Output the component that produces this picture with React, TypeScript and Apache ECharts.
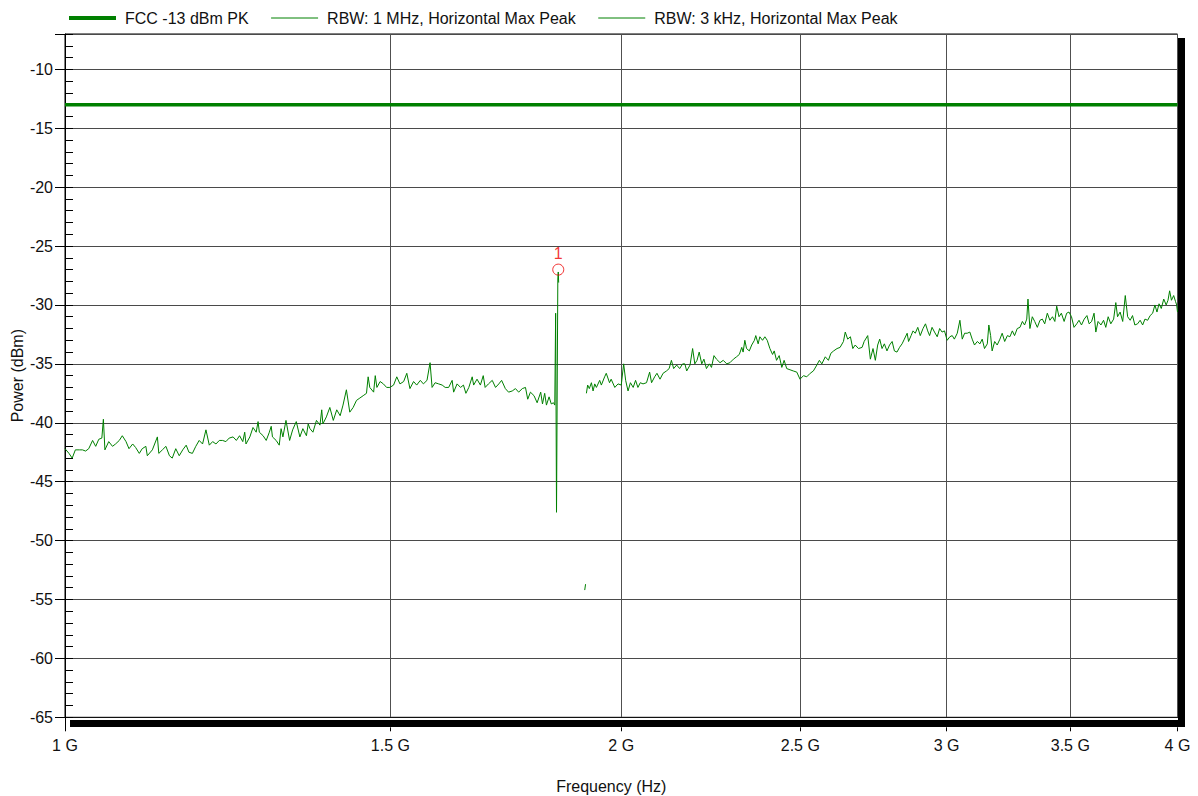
import { useEffect, useRef } from 'react';
import * as echarts from 'echarts';

const FONT = "'Liberation Sans', Arial, Helvetica, sans-serif";

const legendNames = ['FCC -13 dBm PK', 'RBW: 1 MHz, Horizontal Max Peak', 'RBW: 3 kHz, Horizontal Max Peak'];

// FCC limit (MHz, dBm)
const limitFreq = [1000, 4000];
const limitPow = [-13, -13];

// RBW 1 MHz trace (MHz, dBm)
const rbw1Freq = [
  1000, 1005, 1009, 1013, 1018, 1022, 1026, 1030, 1035, 1039, 1043, 1047, 1049, 1051, 1056, 1061, 1065, 1070, 1074, 1079,
  1083, 1088, 1092, 1097, 1101, 1106, 1108, 1115, 1122, 1124, 1129, 1134, 1139, 1143, 1148, 1153, 1158, 1163, 1167, 1172,
  1177, 1182, 1187, 1192, 1197, 1202, 1207, 1212, 1217, 1222, 1227, 1233, 1238, 1243, 1248, 1251, 1253, 1259, 1264, 1269,
  1272, 1274, 1280, 1285, 1290, 1293, 1295, 1301, 1306, 1309, 1312, 1317, 1323, 1328, 1334, 1340, 1345, 1351, 1354, 1357,
  1362, 1368, 1374, 1377, 1379, 1385, 1391, 1397, 1403, 1409, 1414, 1420, 1426, 1432, 1438, 1444, 1450, 1456, 1459, 1462,
  1469, 1472, 1475, 1481, 1487, 1493, 1499, 1506, 1512, 1518, 1525, 1531, 1537, 1544, 1550, 1557, 1563, 1570, 1576, 1580,
  1586, 1593, 1600, 1606, 1613, 1620, 1623, 1630, 1637, 1643, 1648, 1654, 1661, 1664, 1671, 1678, 1684, 1688, 1695, 1703,
  1710, 1717, 1723, 1731, 1738, 1746, 1753, 1760, 1768, 1775, 1780, 1786, 1794, 1801, 1809, 1813, 1818, 1822, 1828, 1833,
  1838, 1841, 1843, 1845, 1848, 1849, 1850,
];
const rbw1Pow = [
  -42.2, -42.6, -43.0, -42.3, -42.3, -42.3, -42.4, -42.2, -41.5, -42.0, -41.4, -41.3, -39.7, -42.3, -41.6, -42.0, -41.8, -41.5, -41.1, -41.6,
  -42.2, -41.8, -42.1, -42.6, -42.2, -42.0, -42.8, -42.3, -41.2, -42.6, -42.3, -42.0, -42.8, -43.0, -42.2, -42.8, -42.3, -41.9, -42.5, -42.6,
  -42.0, -41.5, -41.8, -40.6, -41.9, -41.6, -41.8, -41.5, -41.5, -41.6, -41.3, -41.2, -41.5, -41.1, -41.6, -40.8, -41.8, -41.2, -40.4, -40.8,
  -39.9, -40.8, -41.1, -41.5, -40.8, -40.3, -41.2, -41.5, -41.9, -40.5, -41.2, -39.8, -41.5, -40.6, -39.9, -41.2, -40.5, -41.1, -40.1, -40.5,
  -40.8, -39.8, -40.2, -38.9, -40.1, -39.5, -38.7, -39.8, -38.9, -39.4, -38.5, -37.2, -39.1, -38.7, -38.1, -37.9, -37.7, -37.5, -36.1, -37.0,
  -37.4, -36.0, -37.0, -36.5, -36.7, -37.0, -37.0, -36.8, -36.1, -36.7, -36.5, -35.8, -37.1, -36.5, -36.8, -36.4, -36.7, -36.4, -34.9, -37.0,
  -36.6, -36.7, -36.8, -37.0, -37.0, -36.4, -37.4, -36.7, -37.0, -36.8, -37.5, -37.0, -36.1, -36.8, -36.3, -36.8, -36.0, -37.0, -36.7, -36.4,
  -37.0, -36.7, -36.4, -37.1, -37.4, -37.3, -37.1, -37.4, -37.1, -37.0, -38.0, -37.4, -37.7, -38.3, -37.4, -38.4, -37.5, -38.5, -37.8, -38.4,
  -38.3, -38.5, -30.7, -47.6, -27.8, -27.2, -28.1,
];

// RBW 3 kHz trace: short fragment, then main trace (MHz, dBm)
const rbw3FragFreq = [1911, 1913];
const rbw3FragPow = [-54.2, -53.7];
const rbw3Freq = [
  1915, 1918, 1922, 1927, 1931, 1935, 1939, 1947, 1951, 1959, 1963, 1971, 1975, 1984, 1992, 2000, 2006, 2011, 2017, 2023,
  2030, 2036, 2042, 2048, 2055, 2064, 2072, 2077, 2085, 2091, 2099, 2107, 2116, 2123, 2129, 2135, 2143, 2151, 2159, 2165,
  2170, 2179, 2186, 2192, 2198, 2204, 2211, 2217, 2224, 2232, 2238, 2245, 2252, 2262, 2271, 2281, 2290, 2300, 2309, 2317,
  2324, 2328, 2333, 2338, 2346, 2353, 2361, 2365, 2372, 2377, 2385, 2392, 2399, 2407, 2415, 2420, 2427, 2435, 2443, 2450,
  2458, 2468, 2478, 2489, 2499, 2510, 2520, 2531, 2541, 2552, 2560, 2568, 2579, 2589, 2597, 2606, 2617, 2627, 2638, 2644,
  2652, 2661, 2669, 2677, 2688, 2700, 2707, 2719, 2728, 2737, 2745, 2753, 2760, 2768, 2776, 2785, 2794, 2803, 2811, 2820,
  2829, 2838, 2846, 2856, 2861, 2870, 2877, 2885, 2894, 2903, 2913, 2922, 2930, 2937, 2946, 2955, 2965, 2974, 2983, 2992,
  3002, 3012, 3021, 3029, 3040, 3050, 3059, 3068, 3078, 3088, 3097, 3106, 3117, 3127, 3136, 3145, 3156, 3162, 3169, 3175,
  3185, 3195, 3206, 3215, 3225, 3236, 3246, 3256, 3265, 3276, 3287, 3297, 3306, 3315, 3320, 3328, 3338, 3348, 3359, 3370,
  3380, 3390, 3401, 3412, 3423, 3433, 3441, 3451, 3461, 3473, 3484, 3494, 3505, 3516, 3528, 3538, 3549, 3561, 3573, 3583,
  3594, 3605, 3613, 3623, 3636, 3648, 3658, 3669, 3681, 3694, 3704, 3712, 3724, 3736, 3748, 3759, 3771, 3782, 3793, 3806,
  3818, 3830, 3841, 3854, 3866, 3878, 3889, 3899, 3909, 3920, 3932, 3944, 3953, 3961, 3970, 3981, 3990, 3996, 4000,
];
const rbw3Pow = [
  -37.5, -36.8, -37.1, -36.6, -37.3, -36.7, -37.0, -36.4, -36.8, -36.1, -35.8, -36.6, -36.3, -37.0, -36.7, -36.8, -35.0, -36.4, -37.3, -36.6,
  -37.0, -36.4, -37.0, -36.6, -36.7, -36.6, -35.7, -36.6, -36.1, -35.8, -36.3, -35.8, -35.6, -35.4, -34.7, -35.4, -35.1, -35.4, -35.0, -35.0,
  -35.6, -35.1, -33.7, -35.0, -34.7, -34.0, -35.0, -34.6, -35.4, -35.0, -35.3, -34.3, -34.6, -34.9, -34.7, -35.0, -34.9, -34.6, -34.4, -34.2,
  -33.6, -34.0, -33.0, -33.7, -33.9, -33.4, -33.0, -32.6, -33.3, -32.7, -33.0, -32.7, -33.0, -33.7, -34.2, -33.9, -34.7, -34.3, -35.3, -34.7,
  -35.4, -35.5, -35.6, -35.7, -36.3, -36.0, -36.1, -35.8, -35.6, -35.1, -34.7, -35.0, -34.4, -34.7, -34.1, -33.9, -33.7, -33.6, -33.1, -32.3,
  -32.9, -32.7, -33.7, -33.4, -33.7, -33.6, -33.1, -32.6, -34.6, -33.7, -34.7, -33.4, -32.9, -33.7, -33.3, -33.9, -33.4, -33.1, -33.9, -34.0,
  -33.6, -33.3, -32.9, -32.4, -33.1, -32.6, -32.2, -32.4, -31.9, -32.6, -32.0, -31.6, -32.2, -32.6, -31.9, -32.3, -32.7, -32.0, -32.3, -32.2,
  -33.0, -32.7, -32.6, -32.9, -32.4, -31.3, -32.9, -32.4, -32.4, -32.3, -32.9, -33.4, -33.1, -33.3, -32.9, -33.7, -33.3, -31.7, -32.6, -33.9,
  -33.1, -33.4, -32.9, -32.4, -33.1, -32.6, -32.7, -32.2, -32.6, -32.0, -31.9, -31.4, -31.7, -31.2, -29.5, -32.0, -31.0, -31.4, -31.9, -31.3,
  -31.2, -31.6, -30.7, -31.3, -31.0, -31.4, -30.1, -31.0, -30.7, -31.4, -30.7, -30.6, -31.0, -31.9, -31.6, -31.3, -31.7, -31.2, -30.9, -31.6,
  -31.4, -30.7, -32.3, -31.4, -31.7, -31.3, -31.9, -31.0, -31.6, -31.2, -29.8, -31.0, -30.6, -31.4, -29.2, -31.0, -31.3, -30.9, -31.7, -31.6,
  -31.3, -31.7, -31.2, -31.3, -30.9, -30.7, -30.0, -30.6, -29.9, -30.3, -29.5, -30.0, -29.6, -28.8, -29.6, -29.2, -29.7, -30.0, -30.6,
];

// Marker
const markerFreq = [1849];
const markerPow = [-27.0];
const markerLabels = ['1'];

// Axis ticks
const xTickGHz = [1, 1.5, 2, 2.5, 3, 3.5, 4];
const yMin = -65;
const yMax = -7;

const GREEN = '#008000';
const lx = (mhz: number) => Math.log10(mhz / 1000);
const pairs = (f: number[], p: number[]) => f.map((v, i) => [lx(v), p[i]]);

export default function App() {
  const ref = useRef<HTMLDivElement>(null);
  useEffect(() => {
    if (!ref.current) return;
    const chart = echarts.init(ref.current, undefined, { renderer: 'svg' });
    const xMin = Math.log10(xTickGHz[0]);
    const xMax = Math.log10(xTickGHz[xTickGHz.length - 1]);
    const tickVals = xTickGHz.map((g) => Math.log10(g));
    const lineSeries = (name: string, data: number[][], width: number, z = 2) => ({
      type: 'line',
      name,
      data,
      symbol: 'none',
      showSymbol: false,
      lineStyle: { color: GREEN, width },
      itemStyle: { color: GREEN },
      z,
      silent: true,
    });
    chart.setOption({
      animation: false,
      textStyle: { fontFamily: FONT },
      grid: {
        left: 65,
        right: 20.5,
        top: 34,
        height: 683.3,
        containLabel: false,
        outerBoundsMode: 'none',
        show: true,
        borderColor: '#000',
        borderWidth: 1,
        backgroundColor: 'transparent',
      },
      legend: {
        left: 67,
        top: 10,
        padding: 0,
        itemWidth: 47,
        itemHeight: 16,
        itemGap: 22,
        selectedMode: false,
        itemStyle: { opacity: 0 },
        textStyle: { fontSize: 16, color: '#111', fontFamily: FONT, padding: [0, 0, 0, 4] },
        data: [
          { name: legendNames[0], lineStyle: { width: 4 } },
          { name: legendNames[1], lineStyle: { width: 1 } },
          { name: legendNames[2], lineStyle: { width: 1 } },
        ],
      },
      xAxis: [
        {
          type: 'value',
          min: xMin,
          max: xMax,
          axisLine: { show: true, onZero: false, lineStyle: { color: '#111', width: 1 } },
          axisTick: { show: false, customValues: tickVals },
          axisLabel: { show: false, customValues: tickVals },
          splitLine: { show: true, lineStyle: { color: '#505050', width: 1 } },
        },
        {
          type: 'value',
          min: xMin,
          max: xMax,
          position: 'bottom',
          offset: 10,
          axisLine: { show: false, onZero: false },
          axisTick: { show: true, customValues: tickVals, length: 4, lineStyle: { color: '#000' } },
          axisLabel: {
            customValues: tickVals,
            fontSize: 16,
            color: '#111',
            fontFamily: FONT,
            margin: 10,
            formatter: (v: number) => `${+Math.pow(10, v).toFixed(1)} G`,
          },
          splitLine: { show: false },
          name: 'Frequency (Hz)',
          nameLocation: 'middle',
          nameGap: 51,
          nameMoveOverlap: false,
          nameTextStyle: { fontSize: 16, color: '#111', fontFamily: FONT, padding: [0, 20, 0, 0] },
        },
      ],
      yAxis: [
        {
          type: 'value',
          min: yMin,
          max: yMax,
          interval: 5,
          axisLine: { show: true, lineStyle: { color: '#000', width: 1 } },
          axisTick: { show: true, inside: false, length: 10, lineStyle: { color: '#000' } },
          axisLabel: {
            fontSize: 16,
            color: '#111',
            fontFamily: FONT,
            margin: 12,
            formatter: (v: number) => (v % 5 === 0 ? String(v) : ''),
          },
          splitLine: { show: true, lineStyle: { color: '#4a4a4a', width: 1 } },
          name: 'Power (dBm)',
          nameLocation: 'middle',
          nameGap: 40,
          nameMoveOverlap: false,
          nameTextStyle: { fontSize: 16, color: '#111', fontFamily: FONT },
        },
        {
          type: 'value',
          min: yMin,
          max: yMax,
          interval: 1,
          position: 'left',
          axisLine: { show: false },
          axisTick: { show: true, inside: true, length: 8, lineStyle: { color: '#000' } },
          axisLabel: { show: false },
          splitLine: { show: false },
        },
      ],
      graphic: [
        { type: 'rect', shape: { x: 70, y: 720, width: 1115, height: 7 }, style: { fill: '#000' }, z: 100 },
        { type: 'rect', shape: { x: 1178, y: 38, width: 7, height: 689 }, style: { fill: '#000' }, z: 100 },
        { type: 'line', shape: { x1: 65.5, y1: 717, x2: 65.5, y2: 731 }, style: { stroke: '#000', lineWidth: 1 }, z: 100 },
      ],
      series: [
        lineSeries(legendNames[0], pairs(limitFreq, limitPow), 3.5, 3),
        lineSeries(legendNames[1], pairs(rbw1Freq, rbw1Pow), 1),
        lineSeries(legendNames[2], pairs(rbw3FragFreq, rbw3FragPow), 1),
        lineSeries(legendNames[2], pairs(rbw3Freq, rbw3Pow), 1),
        {
          type: 'scatter',
          name: 'marker',
          data: pairs(markerFreq, markerPow),
          symbol: 'circle',
          symbolSize: 11,
          itemStyle: { color: 'rgba(0,0,0,0)', borderColor: '#ee0000', borderWidth: 1 },
          label: {
            show: true,
            position: 'top',
            distance: 2,
            color: '#ee0000',
            fontSize: 16,
            fontFamily: FONT,
            formatter: (p: any) => markerLabels[p.dataIndex],
          },
          z: 5,
          silent: true,
        },
      ],
    });
    return () => chart.dispose();
  }, []);
  return <div ref={ref} style={{ position: 'absolute', left: 0, top: 0, width: 1198, height: 796 }} />;
}
